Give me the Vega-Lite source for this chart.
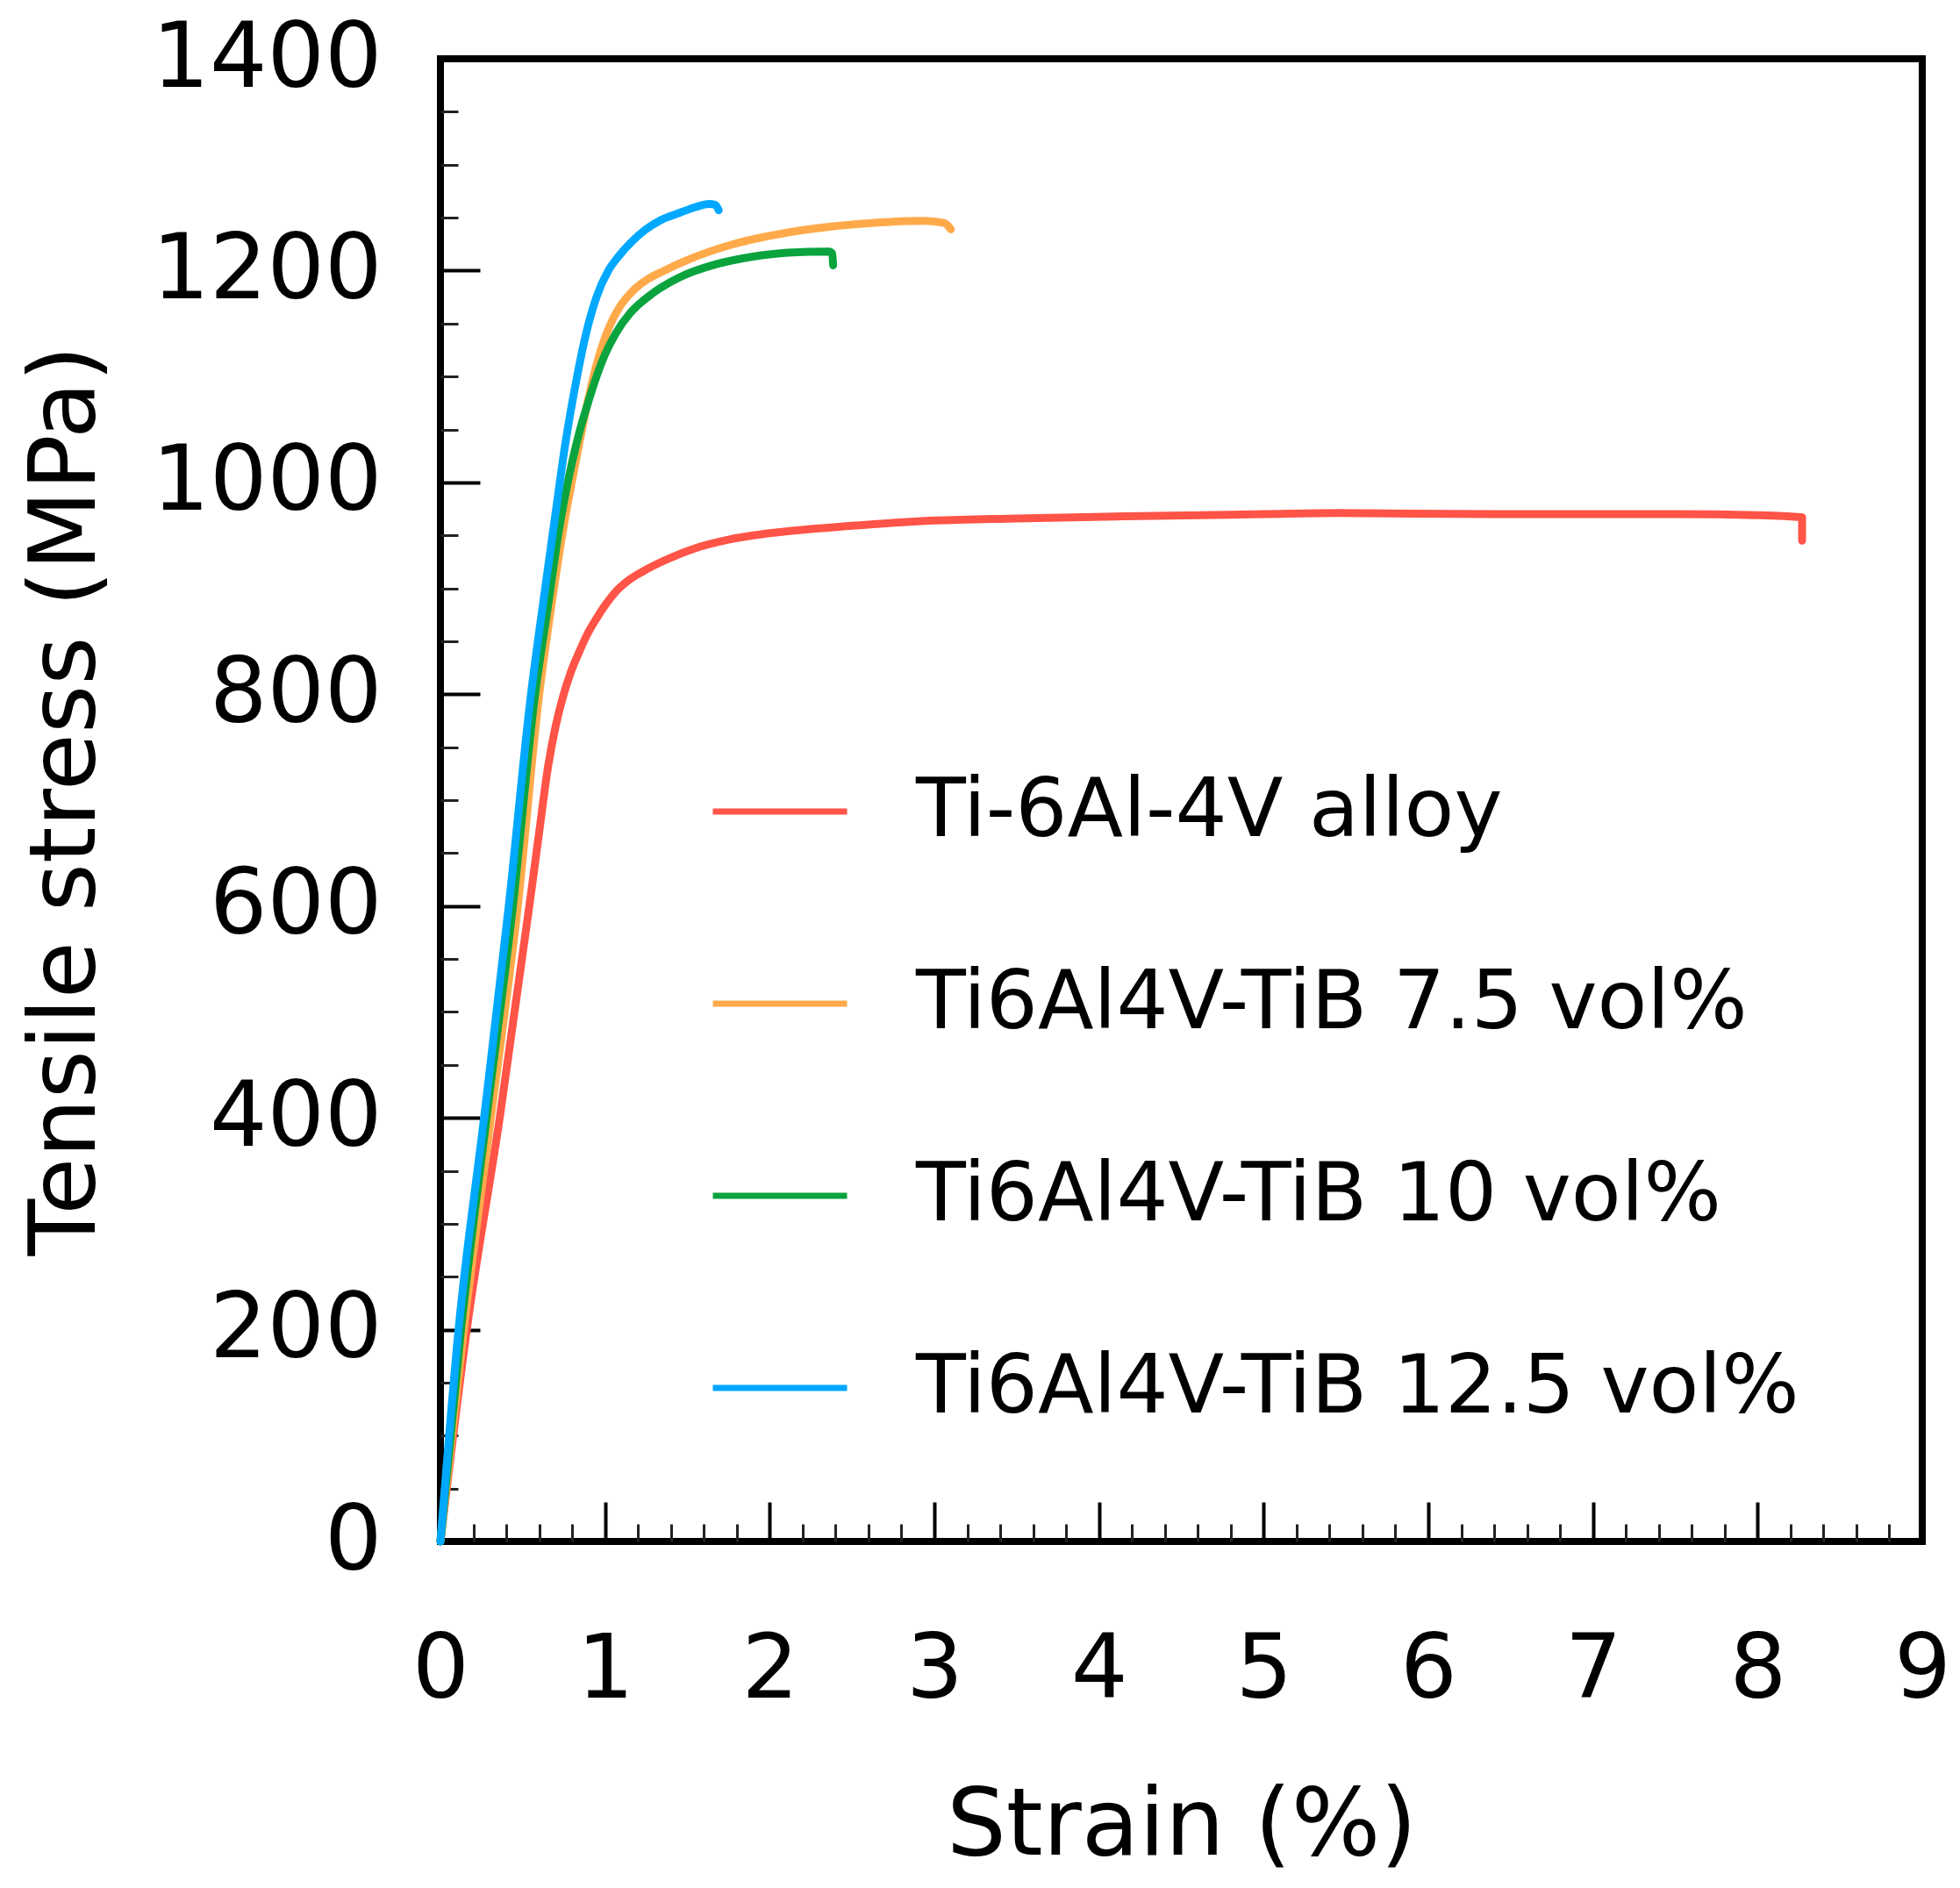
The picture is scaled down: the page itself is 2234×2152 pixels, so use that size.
{
  "$schema": "https://vega.github.io/schema/vega-lite/v6.json",
  "width": 1689,
  "height": 1690,
  "autosize": "none",
  "padding": {"left": 502, "top": 67, "right": 43, "bottom": 395},
  "background": "white",
  "data": {
    "values": [
      {"alloy": "Ti-6Al-4V alloy", "n": 0, "strain": 0, "stress": 0},
      {"alloy": "Ti-6Al-4V alloy", "n": 1, "strain": 0.16, "stress": 200},
      {"alloy": "Ti-6Al-4V alloy", "n": 2, "strain": 0.36, "stress": 400},
      {"alloy": "Ti-6Al-4V alloy", "n": 3, "strain": 0.54, "stress": 600},
      {"alloy": "Ti-6Al-4V alloy", "n": 4, "strain": 0.6, "stress": 670},
      {"alloy": "Ti-6Al-4V alloy", "n": 5, "strain": 0.655, "stress": 733},
      {"alloy": "Ti-6Al-4V alloy", "n": 6, "strain": 0.7, "stress": 770},
      {"alloy": "Ti-6Al-4V alloy", "n": 7, "strain": 0.745, "stress": 798},
      {"alloy": "Ti-6Al-4V alloy", "n": 8, "strain": 0.79, "stress": 820},
      {"alloy": "Ti-6Al-4V alloy", "n": 9, "strain": 0.84, "stress": 839},
      {"alloy": "Ti-6Al-4V alloy", "n": 10, "strain": 0.89, "stress": 856},
      {"alloy": "Ti-6Al-4V alloy", "n": 11, "strain": 0.95, "stress": 872},
      {"alloy": "Ti-6Al-4V alloy", "n": 12, "strain": 1.0, "stress": 884},
      {"alloy": "Ti-6Al-4V alloy", "n": 13, "strain": 1.06, "stress": 896},
      {"alloy": "Ti-6Al-4V alloy", "n": 14, "strain": 1.13, "stress": 906},
      {"alloy": "Ti-6Al-4V alloy", "n": 15, "strain": 1.23, "stress": 916},
      {"alloy": "Ti-6Al-4V alloy", "n": 16, "strain": 1.4, "stress": 929},
      {"alloy": "Ti-6Al-4V alloy", "n": 17, "strain": 1.57, "stress": 939},
      {"alloy": "Ti-6Al-4V alloy", "n": 18, "strain": 1.75, "stress": 946},
      {"alloy": "Ti-6Al-4V alloy", "n": 19, "strain": 2.0, "stress": 952},
      {"alloy": "Ti-6Al-4V alloy", "n": 20, "strain": 2.5, "stress": 959},
      {"alloy": "Ti-6Al-4V alloy", "n": 21, "strain": 3.0, "stress": 964},
      {"alloy": "Ti-6Al-4V alloy", "n": 22, "strain": 3.5, "stress": 966},
      {"alloy": "Ti-6Al-4V alloy", "n": 23, "strain": 4.15, "stress": 968},
      {"alloy": "Ti-6Al-4V alloy", "n": 24, "strain": 5.0, "stress": 970},
      {"alloy": "Ti-6Al-4V alloy", "n": 25, "strain": 5.45, "stress": 971},
      {"alloy": "Ti-6Al-4V alloy", "n": 26, "strain": 6.4, "stress": 970},
      {"alloy": "Ti-6Al-4V alloy", "n": 27, "strain": 7.5, "stress": 970},
      {"alloy": "Ti-6Al-4V alloy", "n": 28, "strain": 8.0, "stress": 969},
      {"alloy": "Ti-6Al-4V alloy", "n": 29, "strain": 8.27, "stress": 967},
      {"alloy": "Ti-6Al-4V alloy", "n": 30, "strain": 8.27, "stress": 945},

      {"alloy": "Ti6Al4V-TiB 7.5 vol%", "n": 0, "strain": 0, "stress": 0},
      {"alloy": "Ti6Al4V-TiB 7.5 vol%", "n": 1, "strain": 0.142, "stress": 200},
      {"alloy": "Ti6Al4V-TiB 7.5 vol%", "n": 2, "strain": 0.306, "stress": 400},
      {"alloy": "Ti6Al4V-TiB 7.5 vol%", "n": 3, "strain": 0.47, "stress": 600},
      {"alloy": "Ti6Al4V-TiB 7.5 vol%", "n": 4, "strain": 0.6, "stress": 800},
      {"alloy": "Ti6Al4V-TiB 7.5 vol%", "n": 5, "strain": 0.68, "stress": 890},
      {"alloy": "Ti6Al4V-TiB 7.5 vol%", "n": 6, "strain": 0.75, "stress": 960},
      {"alloy": "Ti6Al4V-TiB 7.5 vol%", "n": 7, "strain": 0.8, "stress": 1002},
      {"alloy": "Ti6Al4V-TiB 7.5 vol%", "n": 8, "strain": 0.85, "stress": 1042},
      {"alloy": "Ti6Al4V-TiB 7.5 vol%", "n": 9, "strain": 0.9, "stress": 1080},
      {"alloy": "Ti6Al4V-TiB 7.5 vol%", "n": 10, "strain": 0.957, "stress": 1116},
      {"alloy": "Ti6Al4V-TiB 7.5 vol%", "n": 11, "strain": 1.023, "stress": 1146},
      {"alloy": "Ti6Al4V-TiB 7.5 vol%", "n": 12, "strain": 1.09, "stress": 1166},
      {"alloy": "Ti6Al4V-TiB 7.5 vol%", "n": 13, "strain": 1.17, "stress": 1181},
      {"alloy": "Ti6Al4V-TiB 7.5 vol%", "n": 14, "strain": 1.26, "stress": 1192},
      {"alloy": "Ti6Al4V-TiB 7.5 vol%", "n": 15, "strain": 1.36, "stress": 1200},
      {"alloy": "Ti6Al4V-TiB 7.5 vol%", "n": 16, "strain": 1.5, "stress": 1210},
      {"alloy": "Ti6Al4V-TiB 7.5 vol%", "n": 17, "strain": 1.78, "stress": 1225},
      {"alloy": "Ti6Al4V-TiB 7.5 vol%", "n": 18, "strain": 2.11, "stress": 1236},
      {"alloy": "Ti6Al4V-TiB 7.5 vol%", "n": 19, "strain": 2.544, "stress": 1244},
      {"alloy": "Ti6Al4V-TiB 7.5 vol%", "n": 20, "strain": 2.935, "stress": 1247},
      {"alloy": "Ti6Al4V-TiB 7.5 vol%", "n": 21, "strain": 3.06, "stress": 1245},
      {"alloy": "Ti6Al4V-TiB 7.5 vol%", "n": 22, "strain": 3.1, "stress": 1239},

      {"alloy": "Ti6Al4V-TiB 10 vol%", "n": 0, "strain": 0, "stress": 0},
      {"alloy": "Ti6Al4V-TiB 10 vol%", "n": 1, "strain": 0.125, "stress": 200},
      {"alloy": "Ti6Al4V-TiB 10 vol%", "n": 2, "strain": 0.28, "stress": 400},
      {"alloy": "Ti6Al4V-TiB 10 vol%", "n": 3, "strain": 0.44, "stress": 600},
      {"alloy": "Ti6Al4V-TiB 10 vol%", "n": 4, "strain": 0.575, "stress": 800},
      {"alloy": "Ti6Al4V-TiB 10 vol%", "n": 5, "strain": 0.655, "stress": 885},
      {"alloy": "Ti6Al4V-TiB 10 vol%", "n": 6, "strain": 0.72, "stress": 955},
      {"alloy": "Ti6Al4V-TiB 10 vol%", "n": 7, "strain": 0.78, "stress": 1005},
      {"alloy": "Ti6Al4V-TiB 10 vol%", "n": 8, "strain": 0.84, "stress": 1045},
      {"alloy": "Ti6Al4V-TiB 10 vol%", "n": 9, "strain": 0.9, "stress": 1077},
      {"alloy": "Ti6Al4V-TiB 10 vol%", "n": 10, "strain": 0.95, "stress": 1101},
      {"alloy": "Ti6Al4V-TiB 10 vol%", "n": 11, "strain": 1.0, "stress": 1121},
      {"alloy": "Ti6Al4V-TiB 10 vol%", "n": 12, "strain": 1.066, "stress": 1141},
      {"alloy": "Ti6Al4V-TiB 10 vol%", "n": 13, "strain": 1.153, "stress": 1160},
      {"alloy": "Ti6Al4V-TiB 10 vol%", "n": 14, "strain": 1.284, "stress": 1178},
      {"alloy": "Ti6Al4V-TiB 10 vol%", "n": 15, "strain": 1.457, "stress": 1194},
      {"alloy": "Ti6Al4V-TiB 10 vol%", "n": 16, "strain": 1.675, "stress": 1206},
      {"alloy": "Ti6Al4V-TiB 10 vol%", "n": 17, "strain": 1.89, "stress": 1213},
      {"alloy": "Ti6Al4V-TiB 10 vol%", "n": 18, "strain": 2.11, "stress": 1217},
      {"alloy": "Ti6Al4V-TiB 10 vol%", "n": 19, "strain": 2.36, "stress": 1218},
      {"alloy": "Ti6Al4V-TiB 10 vol%", "n": 20, "strain": 2.38, "stress": 1216},
      {"alloy": "Ti6Al4V-TiB 10 vol%", "n": 21, "strain": 2.385, "stress": 1205},

      {"alloy": "Ti6Al4V-TiB 12.5 vol%", "n": 0, "strain": 0, "stress": 0},
      {"alloy": "Ti6Al4V-TiB 12.5 vol%", "n": 1, "strain": 0.11, "stress": 200},
      {"alloy": "Ti6Al4V-TiB 12.5 vol%", "n": 2, "strain": 0.265, "stress": 400},
      {"alloy": "Ti6Al4V-TiB 12.5 vol%", "n": 3, "strain": 0.415, "stress": 600},
      {"alloy": "Ti6Al4V-TiB 12.5 vol%", "n": 4, "strain": 0.55, "stress": 800},
      {"alloy": "Ti6Al4V-TiB 12.5 vol%", "n": 5, "strain": 0.62, "stress": 882},
      {"alloy": "Ti6Al4V-TiB 12.5 vol%", "n": 6, "strain": 0.695, "stress": 966},
      {"alloy": "Ti6Al4V-TiB 12.5 vol%", "n": 7, "strain": 0.76, "stress": 1038},
      {"alloy": "Ti6Al4V-TiB 12.5 vol%", "n": 8, "strain": 0.825, "stress": 1096},
      {"alloy": "Ti6Al4V-TiB 12.5 vol%", "n": 9, "strain": 0.89, "stress": 1144},
      {"alloy": "Ti6Al4V-TiB 12.5 vol%", "n": 10, "strain": 0.95, "stress": 1176},
      {"alloy": "Ti6Al4V-TiB 12.5 vol%", "n": 11, "strain": 1.02, "stress": 1200},
      {"alloy": "Ti6Al4V-TiB 12.5 vol%", "n": 12, "strain": 1.09, "stress": 1215},
      {"alloy": "Ti6Al4V-TiB 12.5 vol%", "n": 13, "strain": 1.16, "stress": 1227},
      {"alloy": "Ti6Al4V-TiB 12.5 vol%", "n": 14, "strain": 1.24, "stress": 1238},
      {"alloy": "Ti6Al4V-TiB 12.5 vol%", "n": 15, "strain": 1.33, "stress": 1247},
      {"alloy": "Ti6Al4V-TiB 12.5 vol%", "n": 16, "strain": 1.46, "stress": 1255},
      {"alloy": "Ti6Al4V-TiB 12.5 vol%", "n": 17, "strain": 1.55, "stress": 1260},
      {"alloy": "Ti6Al4V-TiB 12.5 vol%", "n": 18, "strain": 1.63, "stress": 1263},
      {"alloy": "Ti6Al4V-TiB 12.5 vol%", "n": 19, "strain": 1.67, "stress": 1262},
      {"alloy": "Ti6Al4V-TiB 12.5 vol%", "n": 20, "strain": 1.69, "stress": 1257}
    ]
  },
  "resolve": {"axis": {"x": "independent", "y": "independent"}},
  "layer": [
    {
      "mark": {"type": "point", "opacity": 0},
      "encoding": {
        "x": {
          "field": "strain", "type": "quantitative",
          "scale": {"domain": [0, 9], "nice": false, "zero": false},
          "axis": {
            "orient": "bottom", "values": [0.2, 0.4, 0.6, 0.8, 1.2, 1.4, 1.6, 1.8, 2.2, 2.4, 2.6, 2.8, 3.2, 3.4, 3.6, 3.8, 4.2, 4.4, 4.6, 4.8, 5.2, 5.4, 5.6, 5.8, 6.2, 6.4, 6.6, 6.8, 7.2, 7.4, 7.6, 7.8, 8.2, 8.4, 8.6, 8.8],
            "labels": false, "domain": false, "grid": false, "title": null,
            "tickSize": -20, "tickWidth": 3, "tickColor": "#222222"
          }
        },
        "y": {
          "field": "stress", "type": "quantitative",
          "scale": {"domain": [0, 1400], "nice": false},
          "axis": {
            "orient": "left", "values": [50, 100, 150, 250, 300, 350, 450, 500, 550, 650, 700, 750, 850, 900, 950, 1050, 1100, 1150, 1250, 1300, 1350],
            "labels": false, "domain": false, "grid": false, "title": null,
            "tickSize": -20, "tickWidth": 3, "tickColor": "#222222"
          }
        }
      }
    },
    {
      "mark": {"type": "point", "opacity": 0},
      "encoding": {
        "x": {
          "field": "strain", "type": "quantitative",
          "axis": {
            "orient": "bottom", "values": [1, 2, 3, 4, 5, 6, 7, 8],
            "labels": false, "domain": false, "grid": false, "title": null,
            "tickSize": -45, "tickWidth": 4, "tickColor": "black"
          }
        },
        "y": {
          "field": "stress", "type": "quantitative",
          "axis": {
            "orient": "left", "values": [200, 400, 600, 800, 1000, 1200],
            "labels": false, "domain": false, "grid": false, "title": null,
            "tickSize": -45, "tickWidth": 4, "tickColor": "black"
          }
        }
      }
    },
    {
      "mark": {"type": "line", "strokeWidth": 9, "strokeCap": "round", "strokeJoin": "round", "interpolate": "monotone"},
      "encoding": {
        "x": {
          "field": "strain", "type": "quantitative",
          "axis": {
            "orient": "bottom", "values": [0, 1, 2, 3, 4, 5, 6, 7, 8, 9], "format": "d",
            "ticks": false, "domain": false, "grid": false,
            "labelFont": "DejaVu Sans", "labelFontSize": 102, "labelColor": "black",
            "labelPadding": 96, "labelBaseline": "top", "labelFlush": false,
            "title": "Strain (%)", "titleFont": "DejaVu Sans", "titleFontSize": 107,
            "titleFontWeight": "normal", "titleColor": "black",
            "titleBaseline": "alphabetic", "titleY": 356
          }
        },
        "y": {
          "field": "stress", "type": "quantitative",
          "axis": {
            "orient": "left", "values": [0, 200, 400, 600, 800, 1000, 1200, 1400], "format": "d",
            "ticks": false, "domain": false, "grid": false,
            "labelFont": "DejaVu Sans", "labelFontSize": 103, "labelColor": "black",
            "labelPadding": 67, "labelFlush": false, "labelLimit": 1000,
            "title": "Tensile stress (MPa)", "titleFont": "DejaVu Sans", "titleFontSize": 106,
            "titleFontWeight": "normal", "titleColor": "black",
            "titleBaseline": "alphabetic", "titleX": -395, "titleY": 845
          }
        },
        "color": {
          "field": "alloy", "type": "nominal",
          "scale": {
            "domain": ["Ti-6Al-4V alloy", "Ti6Al4V-TiB 7.5 vol%", "Ti6Al4V-TiB 10 vol%", "Ti6Al4V-TiB 12.5 vol%"],
            "range": ["#ff5447", "#ffaa4a", "#0aa33e", "#00a8ff"]
          },
          "legend": {
            "orient": "none", "legendX": 307, "legendY": 778, "padding": 0,
            "title": null, "symbolType": "stroke", "symbolSize": 23409,
            "symbolStrokeWidth": 7, "labelFont": "DejaVu Sans", "labelFontSize": 93,
            "labelColor": "black", "labelOffset": 75, "labelLimit": 2000,
            "rowPadding": 92
          }
        },
        "order": {"field": "n", "type": "quantitative"}
      }
    }
  ],
  "config": {
    "view": {"stroke": "black", "strokeWidth": 8}
  }
}
